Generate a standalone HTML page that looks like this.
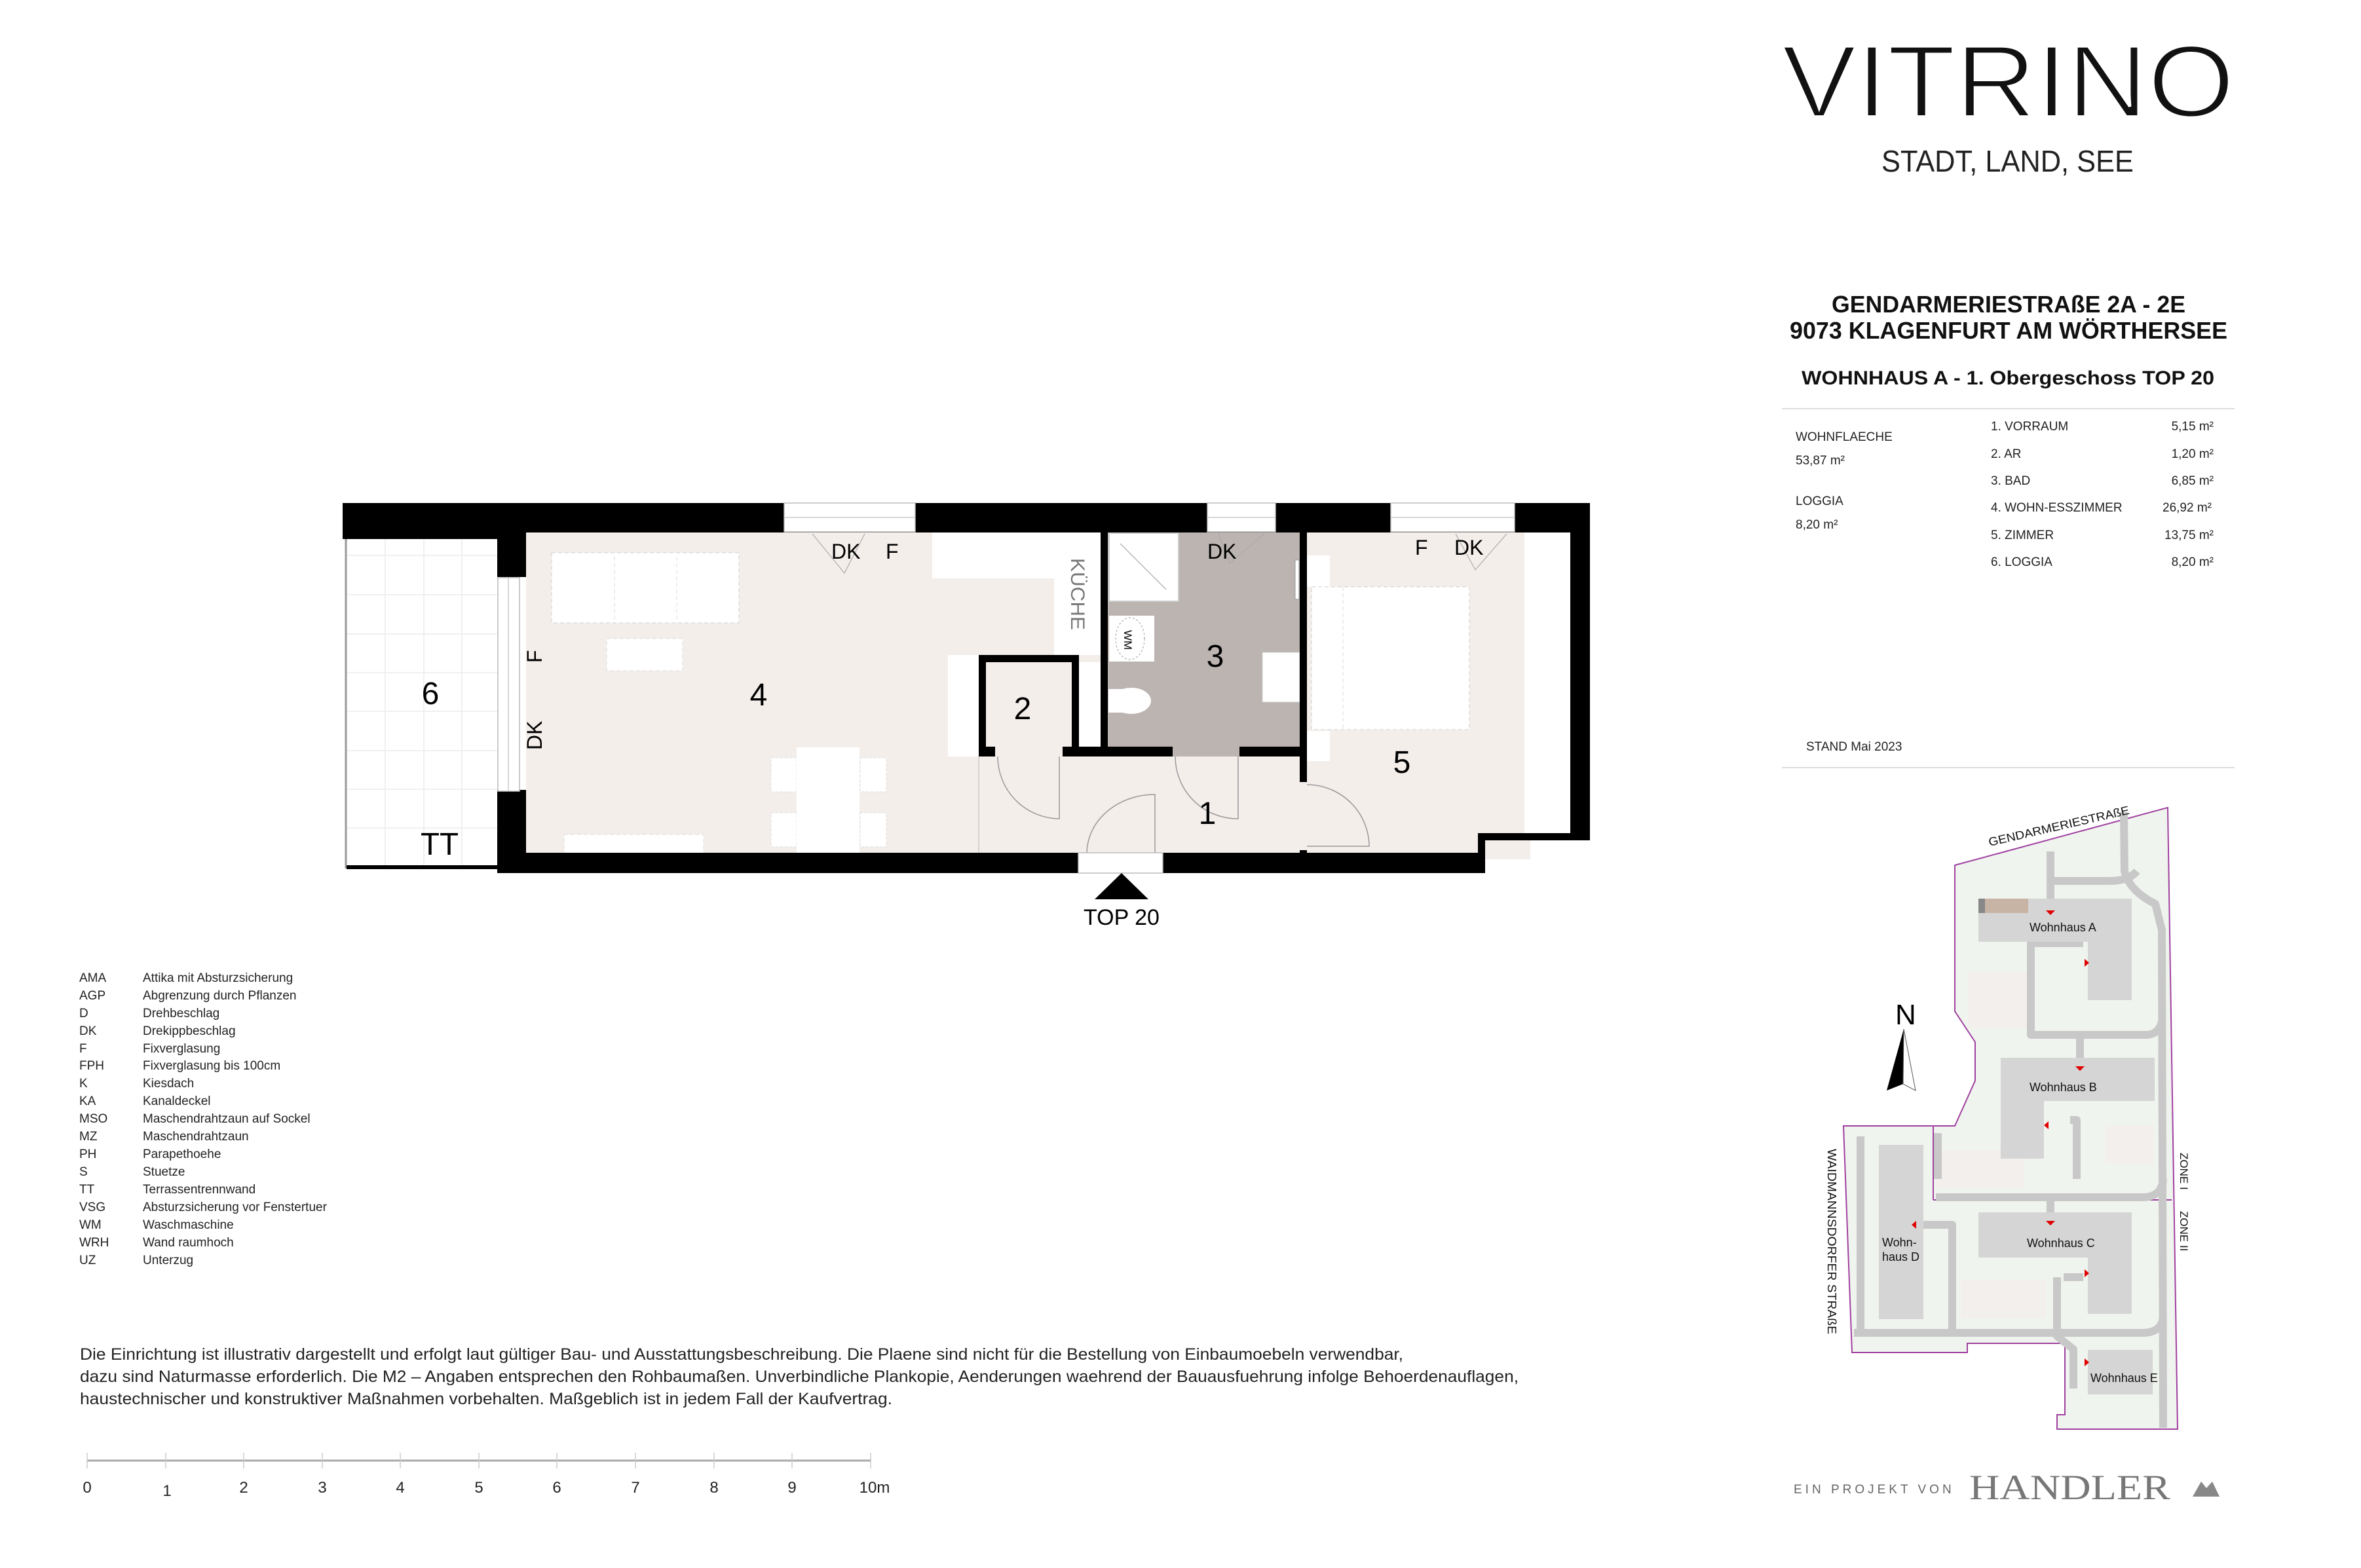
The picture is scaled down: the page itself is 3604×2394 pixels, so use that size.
<!DOCTYPE html>
<html><head><meta charset="utf-8"><style>
html,body{margin:0;padding:0;background:#fff}
svg{display:block}
text{font-family:"Liberation Sans",Arial,sans-serif}
</style></head><body>
<svg width="3604" height="2394" viewBox="0 0 3604 2394" xmlns="http://www.w3.org/2000/svg">
<rect width="3604" height="2394" fill="#fff"/>

<!-- ===== FLOOR PLAN ===== -->
<rect x="803" y="812" width="1524" height="494" fill="#f4eeeb"/>
<rect x="2256" y="1272" width="80" height="40" fill="#f4eeeb"/>
<rect x="2327" y="812" width="72" height="462" fill="#fff"/>
<rect x="529" y="823" width="230" height="500" fill="#fff"/>
<g stroke="#ececec" stroke-width="1.5">
<line x1="588" y1="823" x2="588" y2="1321"/><line x1="647" y1="823" x2="647" y2="1321"/><line x1="705" y1="823" x2="705" y2="1321"/>
<line x1="529" y1="848" x2="759" y2="848"/><line x1="529" y1="908" x2="759" y2="908"/><line x1="529" y1="968" x2="759" y2="968"/><line x1="529" y1="1027" x2="759" y2="1027"/><line x1="529" y1="1086" x2="759" y2="1086"/><line x1="529" y1="1146" x2="759" y2="1146"/><line x1="529" y1="1205" x2="759" y2="1205"/><line x1="529" y1="1264" x2="759" y2="1264"/>
</g>
<line x1="528" y1="823" x2="528" y2="1326" stroke="#999" stroke-width="3"/>
<rect x="529" y="1321" width="230" height="6" fill="#000"/>

<rect x="1423" y="812" width="257" height="71" fill="#fff"/>
<rect x="1609" y="812" width="71" height="188" fill="#fff"/>
<text transform="translate(1635,852) rotate(90)" font-size="30" fill="#777" textLength="110" lengthAdjust="spacingAndGlyphs">KÜCHE</text>
<rect x="1691" y="812" width="293" height="343" fill="#bbb4b1"/>
<rect x="1693" y="814" width="106" height="104" fill="#fff" stroke="#ccc" stroke-width="2"/>
<line x1="1710" y1="830" x2="1780" y2="900" stroke="#999"/>
<rect x="1693" y="940" width="69" height="70" fill="#fff"/>
<ellipse cx="1725" cy="975" rx="22" ry="32" fill="none" stroke="#999" stroke-dasharray="3,3"/>
<text transform="translate(1716,962) rotate(90)" font-size="17" fill="#000">WM</text>
<ellipse cx="1727" cy="1070" rx="30" ry="20" fill="#fff"/>
<rect x="1692" y="1052" width="22" height="36" fill="#fff"/>
<rect x="1927" y="996" width="57" height="76" fill="#fff" stroke="#ccc"/>
<rect x="1977" y="855" width="6" height="60" fill="#fff" stroke="#999"/>
<rect x="1447" y="1000" width="47" height="155" fill="#fff"/>
<rect x="1494" y="1000" width="153" height="11" fill="#000"/>
<rect x="1494" y="1000" width="11" height="155" fill="#000"/>
<rect x="1636" y="1000" width="11" height="155" fill="#000"/>
<rect x="1647" y="1011" width="41" height="129" fill="#fff"/>
<rect x="1680" y="812" width="11" height="343" fill="#000"/>
<rect x="1505" y="1011" width="131" height="135" fill="#f4eeeb"/>
<rect x="1494" y="1140" width="25" height="15" fill="#000"/>
<rect x="1622" y="1140" width="168" height="15" fill="#000"/>
<rect x="1892" y="1140" width="92" height="15" fill="#000"/>
<rect x="1984" y="812" width="11" height="382" fill="#000"/>
<rect x="1984" y="1298" width="11" height="10" fill="#000"/>
<rect x="1995" y="848" width="35" height="48" fill="#fff"/>
<rect x="1995" y="1116" width="35" height="46" fill="#fff"/>
<rect x="2002" y="896" width="241" height="218" fill="#fff" stroke="#ddd" stroke-dasharray="6,4" stroke-width="1.5"/>
<line x1="2050" y1="896" x2="2050" y2="1114" stroke="#ddd" stroke-dasharray="6,4"/>
<rect x="842" y="844" width="286" height="107" fill="#fff" stroke="#ddd" stroke-dasharray="6,4" stroke-width="1.5"/>
<line x1="938" y1="850" x2="938" y2="951" stroke="#ddd" stroke-dasharray="6,4"/>
<line x1="1033" y1="850" x2="1033" y2="951" stroke="#ddd" stroke-dasharray="6,4"/>
<rect x="926" y="975" width="116" height="49" fill="#fff" stroke="#ddd" stroke-dasharray="6,4"/>
<rect x="1177" y="1157" width="39" height="52" fill="#fff" stroke="#ddd" stroke-dasharray="4,3"/>
<rect x="1313" y="1157" width="40" height="52" fill="#fff" stroke="#ddd" stroke-dasharray="4,3"/>
<rect x="1177" y="1241" width="39" height="52" fill="#fff" stroke="#ddd" stroke-dasharray="4,3"/>
<rect x="1313" y="1241" width="40" height="52" fill="#fff" stroke="#ddd" stroke-dasharray="4,3"/>
<rect x="1216" y="1141" width="96" height="166" fill="#fff"/>
<rect x="861" y="1274" width="213" height="33" fill="#fff" stroke="#ddd" stroke-dasharray="6,4"/>
<line x1="1494" y1="1155" x2="1494" y2="1302" stroke="#bbb"/>

<g fill="none" stroke="#999" stroke-width="1.5">
<path d="M1523,1155 A95,95 0 0 0 1617,1250 L1617,1155"/>
<path d="M1794,1155 A95,95 0 0 0 1890,1250 L1890,1155"/>
<path d="M1659,1302 A104,90 0 0 1 1763,1213 L1763,1302"/>
<path d="M1995,1198 A95,95 0 0 1 2090,1292 L1995,1292"/>
</g>

<g fill="#000">
<rect x="523" y="768" width="1904" height="45"/>
<rect x="523" y="768" width="236" height="55"/>
<rect x="759" y="768" width="44" height="113"/>
<rect x="759" y="1206" width="44" height="127"/>
<rect x="759" y="1302" width="887" height="31"/>
<rect x="1775" y="1302" width="492" height="31"/>
<rect x="2256" y="1272" width="11" height="61"/>
<rect x="2256" y="1272" width="171" height="11"/>
<rect x="2397" y="768" width="30" height="515"/>
</g>
<g fill="#fff" stroke="#bbb" stroke-width="1.5">
<rect x="1197" y="768" width="200" height="44"/>
<rect x="1843" y="768" width="104" height="44"/>
<rect x="2123" y="768" width="189" height="44"/>
<rect x="760" y="882" width="33" height="326"/>
<rect x="1646" y="1302" width="129" height="31"/>
</g>
<g stroke="#ccc" stroke-width="1.5">
<line x1="1197" y1="790" x2="1397" y2="790"/><line x1="1843" y1="790" x2="1947" y2="790"/><line x1="2123" y1="790" x2="2312" y2="790"/>
<line x1="776" y1="882" x2="776" y2="1208"/>
</g>
<g fill="none" stroke="#aaa" stroke-width="1.2">
<polyline points="1240,815 1289,875 1320,815"/>
<polyline points="1860,815 1877,860 1930,815"/>
<polyline points="2222,815 2252,870 2300,815"/>
</g>

<g font-size="48" fill="#000" text-anchor="middle">
<text x="657" y="1075">6</text>
<text x="1158" y="1077">4</text>
<text x="1561" y="1098">2</text>
<text x="1855" y="1018">3</text>
<text x="2140" y="1180">5</text>
<text x="1843" y="1258">1</text>
<text x="671" y="1305" textLength="58" lengthAdjust="spacingAndGlyphs">TT</text>
</g>
<g font-size="32" fill="#000">
<text x="1269" y="853">DK</text>
<text x="1352" y="853">F</text>
<text x="1843" y="853">DK</text>
<text x="2160" y="847">F</text>
<text x="2220" y="847">DK</text>
<text transform="translate(827,1012) rotate(-90)">F</text>
<text transform="translate(827,1145) rotate(-90)">DK</text>
</g>
<polygon points="1671,1373 1712,1333 1753,1373" fill="#000"/>
<text x="1712" y="1412" font-size="34" text-anchor="middle" fill="#000">TOP 20</text>

<!-- ===== LEGEND ===== -->
<g font-size="19" fill="#222" transform="translate(0,-7)">
<text x="121" y="1506">AMA</text><text x="218" y="1506">Attika mit Absturzsicherung</text>
<text x="121" y="1533">AGP</text><text x="218" y="1533">Abgrenzung durch Pflanzen</text>
<text x="121" y="1560">D</text><text x="218" y="1560">Drehbeschlag</text>
<text x="121" y="1587">DK</text><text x="218" y="1587">Drekippbeschlag</text>
<text x="121" y="1614">F</text><text x="218" y="1614">Fixverglasung</text>
<text x="121" y="1640">FPH</text><text x="218" y="1640">Fixverglasung bis 100cm</text>
<text x="121" y="1667">K</text><text x="218" y="1667">Kiesdach</text>
<text x="121" y="1694">KA</text><text x="218" y="1694">Kanaldeckel</text>
<text x="121" y="1721">MSO</text><text x="218" y="1721">Maschendrahtzaun auf Sockel</text>
<text x="121" y="1748">MZ</text><text x="218" y="1748">Maschendrahtzaun</text>
<text x="121" y="1775">PH</text><text x="218" y="1775">Parapethoehe</text>
<text x="121" y="1802">S</text><text x="218" y="1802">Stuetze</text>
<text x="121" y="1829">TT</text><text x="218" y="1829">Terrassentrennwand</text>
<text x="121" y="1856">VSG</text><text x="218" y="1856">Absturzsicherung vor Fenstertuer</text>
<text x="121" y="1883">WM</text><text x="218" y="1883">Waschmaschine</text>
<text x="121" y="1910">WRH</text><text x="218" y="1910">Wand raumhoch</text>
<text x="121" y="1937">UZ</text><text x="218" y="1937">Unterzug</text>
</g>

<g font-size="25" fill="#222">
<text x="122" y="2076" textLength="2020" lengthAdjust="spacingAndGlyphs">Die Einrichtung ist illustrativ dargestellt und erfolgt laut gültiger Bau- und Ausstattungsbeschreibung. Die Plaene sind nicht für die Bestellung von Einbaumoebeln verwendbar,</text>
<text x="122" y="2110" textLength="2196" lengthAdjust="spacingAndGlyphs">dazu sind Naturmasse erforderlich. Die M2 – Angaben entsprechen den Rohbaumaßen. Unverbindliche Plankopie, Aenderungen waehrend der Bauausfuehrung infolge Behoerdenauflagen,</text>
<text x="122" y="2144" textLength="1240" lengthAdjust="spacingAndGlyphs">haustechnischer und konstruktiver Maßnahmen vorbehalten. Maßgeblich ist in jedem Fall der Kaufvertrag.</text>
</g>

<g transform="translate(0,-6)">
<line x1="133" y1="2236" x2="1330" y2="2236" stroke="#aaa" stroke-width="3"/>
<g stroke="#ccc" stroke-width="1.5">
<line x1="133" y1="2224" x2="133" y2="2248"/><line x1="253" y1="2224" x2="253" y2="2248"/><line x1="372" y1="2224" x2="372" y2="2248"/><line x1="492" y1="2224" x2="492" y2="2248"/><line x1="611" y1="2224" x2="611" y2="2248"/><line x1="731" y1="2224" x2="731" y2="2248"/><line x1="850" y1="2224" x2="850" y2="2248"/><line x1="970" y1="2224" x2="970" y2="2248"/><line x1="1090" y1="2224" x2="1090" y2="2248"/><line x1="1209" y1="2224" x2="1209" y2="2248"/><line x1="1329" y1="2224" x2="1329" y2="2248"/>
</g>
<g font-size="24" fill="#222" text-anchor="middle">
<text x="133" y="2285">0</text><text x="255" y="2290">1</text><text x="372" y="2285">2</text><text x="492" y="2285">3</text><text x="611" y="2285">4</text><text x="731" y="2285">5</text><text x="850" y="2285">6</text><text x="970" y="2285">7</text><text x="1090" y="2285">8</text><text x="1209" y="2285">9</text><text x="1335" y="2285">10m</text>
</g>
</g>

<!-- ===== HEADER ===== -->
<text x="2720" y="178" font-size="156" fill="#111" textLength="691" lengthAdjust="spacingAndGlyphs" stroke="#fff" stroke-width="4" paint-order="normal">VITRINO</text>
<text x="2872" y="262" font-size="46" fill="#222" textLength="385" lengthAdjust="spacingAndGlyphs">STADT, LAND, SEE</text>
<g font-weight="bold" fill="#111" text-anchor="middle">
<text x="3066" y="477" font-size="36" textLength="540" lengthAdjust="spacingAndGlyphs">GENDARMERIESTRAßE 2A - 2E</text>
<text x="3066" y="517" font-size="36" textLength="668" lengthAdjust="spacingAndGlyphs">9073 KLAGENFURT AM WÖRTHERSEE</text>
<text x="3065" y="587" font-size="30" textLength="630" lengthAdjust="spacingAndGlyphs">WOHNHAUS A - 1. Obergeschoss TOP 20</text>
</g>
<line x1="2720" y1="624" x2="3411" y2="624" stroke="#ddd" stroke-width="2"/>
<g font-size="19" fill="#222" transform="translate(0,-7)">
<text x="2741" y="680">WOHNFLAECHE</text>
<text x="2741" y="716">53,87 m²</text>
<text x="2741" y="778">LOGGIA</text>
<text x="2741" y="814">8,20 m²</text>
<text x="3039" y="664">1. VORRAUM</text>
<text x="3039" y="706">2. AR</text>
<text x="3039" y="747">3. BAD</text>
<text x="3039" y="788">4. WOHN-ESSZIMMER</text>
<text x="3039" y="830">5. ZIMMER</text>
<text x="3039" y="871">6. LOGGIA</text>
</g>
<g font-size="19" fill="#222" text-anchor="end" transform="translate(0,-7)">
<text x="3379" y="664">5,15 m²</text>
<text x="3379" y="706">1,20 m²</text>
<text x="3379" y="747">6,85 m²</text>
<text x="3376" y="788">26,92 m²</text>
<text x="3379" y="830">13,75 m²</text>
<text x="3379" y="871">8,20 m²</text>
</g>
<text x="2757" y="1146" font-size="19" fill="#222">STAND Mai 2023</text>
<line x1="2720" y1="1172" x2="3411" y2="1172" stroke="#ddd" stroke-width="2"/>

<!-- ===== SITE PLAN ===== -->
<polygon points="2984,1321 3309,1233 3324,2182 3140,2182 3140,2160 3152,2160 3152,2051 3003,2051 3003,2065 2827,2065 2814,1719 2984,1719 3015,1650 3015,1591 2984,1544" fill="#f0f4ee" stroke="#a040a0" stroke-width="2"/>
<line x1="2951" y1="1832" x2="3315" y2="1832" stroke="#a040a0" stroke-width="2"/>
<line x1="2951" y1="1719" x2="2951" y2="1832" stroke="#a040a0" stroke-width="2"/>
<rect x="3005" y="1485" width="90" height="85" fill="#f2efec"/>
<rect x="3213" y="1718" width="75" height="58" fill="#f2efec"/>
<rect x="2955" y="1755" width="135" height="60" fill="#f2efec"/>
<rect x="2993" y="1955" width="130" height="58" fill="#f2efec"/>
<g fill="none" stroke="#c8c8c8" stroke-width="12" stroke-linejoin="round">
<path d="M3242,1240 L3243,1330 Q3250,1360 3290,1380 L3300,1420 L3302,2180"/>
<path d="M3130,1300 L3130,1390"/>
<path d="M3130,1345 L3220,1345 Q3250,1345 3262,1330"/>
<path d="M3100,1470 L3100,1580 L3175,1580 L3275,1580 Q3295,1580 3300,1560"/>
<path d="M3100,1470 L3100,1440 L3180,1440"/>
<path d="M3175,1580 L3175,1620"/>
<path d="M3160,1710 L3170,1710 L3170,1800"/>
<path d="M2958,1730 L2958,1800"/>
<path d="M2955,1828 L3270,1828 Q3300,1828 3302,1800"/>
<path d="M3130,1828 L3130,1855"/>
<path d="M2930,1870 L2980,1870 L2980,2030"/>
<path d="M2830,2035 L3270,2035 Q3300,2035 3302,2010"/>
<path d="M3140,1950 L3140,2040 L3165,2060 L3165,2120"/>
<path d="M3150,1950 L3180,1950"/>
<path d="M2840,1735 L2840,2030"/>
</g>
<g fill="#d5d5d5">
<rect x="3020" y="1372" width="234" height="66"/>
<rect x="3187" y="1372" width="67" height="155"/>
<rect x="3054" y="1615" width="235" height="66"/>
<rect x="3054" y="1615" width="66" height="154"/>
<rect x="3020" y="1851" width="234" height="69"/>
<rect x="3187" y="1851" width="67" height="155"/>
<rect x="2868" y="1748" width="68" height="266"/>
<rect x="3187" y="2061" width="99" height="68"/>
</g>
<rect x="3020" y="1372" width="10" height="22" fill="#888"/>
<rect x="3030" y="1372" width="66" height="22" fill="#c8b4a4"/>
<g fill="#e00000">
<polygon points="3123,1390 3137,1390 3130,1397"/>
<polygon points="3182,1464 3182,1476 3189,1470"/>
<polygon points="3168,1628 3182,1628 3175,1635"/>
<polygon points="3127,1712 3127,1724 3120,1718"/>
<polygon points="3123,1864 3137,1864 3130,1871"/>
<polygon points="3182,1938 3182,1950 3189,1944"/>
<polygon points="2925,1864 2925,1876 2918,1870"/>
<polygon points="3182,2074 3182,2086 3189,2080"/>
</g>
<g font-size="18" fill="#111">
<text x="3098" y="1422">Wohnhaus A</text>
<text x="3098" y="1666">Wohnhaus B</text>
<text x="3094" y="1904">Wohnhaus C</text>
<text x="2873" y="1903">Wohn-</text>
<text x="2873" y="1925">haus D</text>
<text x="3191" y="2110">Wohnhaus E</text>
</g>
<text transform="translate(3037,1292) rotate(-13)" font-size="18" fill="#111" textLength="220" lengthAdjust="spacingAndGlyphs">GENDARMERIESTRAßE</text>
<text transform="translate(2790,1754) rotate(90)" font-size="18" fill="#111" textLength="283" lengthAdjust="spacingAndGlyphs">WAIDMANNSDORFER STRAßE</text>
<text transform="translate(3328,1760) rotate(90)" font-size="17" fill="#111">ZONE I</text>
<text transform="translate(3328,1849) rotate(90)" font-size="17" fill="#111">ZONE II</text>
<text x="2893" y="1564" font-size="44" fill="#000">N</text>
<polygon points="2906,1571 2880,1665 2905,1655" fill="#000"/>
<polygon points="2906,1571 2905,1655 2924,1665" fill="#fff" stroke="#555" stroke-width="1"/>

<text x="2738" y="2280" font-size="19" fill="#666" letter-spacing="5">EIN PROJEKT VON</text>
<text x="3006" y="2289" font-size="54" fill="#777" textLength="307" lengthAdjust="spacingAndGlyphs" style="font-family:'Liberation Serif',serif">HANDLER</text>
<polygon points="3347,2285 3360,2262 3368,2272 3377,2262 3388,2285" fill="#888"/>
</svg>
</body></html>
